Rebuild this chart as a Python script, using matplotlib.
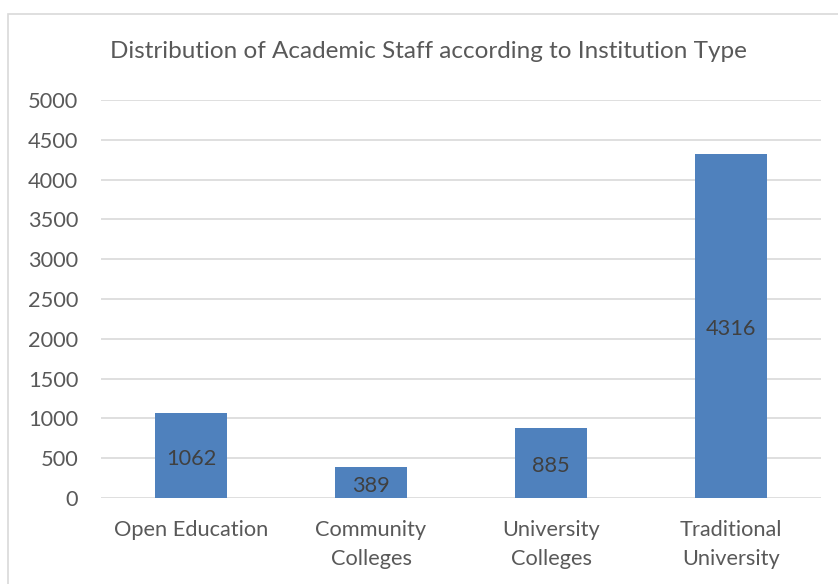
import matplotlib.pyplot as plt
from matplotlib.patches import Rectangle

# chart values
categories = ["Open Education", "Community\nColleges", "University\nColleges", "Traditional\nUniversity"]
staff = [1062, 389, 885, 4316]
yticks = [0, 500, 1000, 1500, 2000, 2500, 3000, 3500, 4000, 4500, 5000]

plt.rcParams['font.family'] = ['Lato', 'DejaVu Sans']

fig = plt.figure(figsize=(8.38, 5.84), dpi=100)
ax = fig.add_axes([101 / 838, 86 / 584, 720 / 838, 398 / 584])

# light grey chart border (cut off at right/bottom like the reference)
fig.patches.append(Rectangle((8 / 838, -0.05), 1.0, (584 - 14) / 584 + 0.05,
                             transform=fig.transFigure, fill=False,
                             edgecolor="#d9d9d9", linewidth=1.2))

x = range(len(categories))
bars = ax.bar(x, staff, width=0.4, color="#4f81bd", zorder=3)

for b, v in zip(bars, staff):
    ax.text(b.get_x() + b.get_width() / 2, v / 2 - 40, str(v), ha="center", va="center",
            fontsize=15.7, color="#404040", zorder=4)

ax.set_xlim(-0.5, len(categories) - 0.5)
ax.set_ylim(0, 5000)
ax.set_yticks(yticks)
ax.set_yticklabels([str(t) for t in yticks])
ax.set_xticks(list(x))
ax.set_xticklabels(categories, linespacing=1.55)
ax.tick_params(axis="both", length=0, labelsize=15.7, labelcolor="#595959")
ax.tick_params(axis="y", pad=16.5)
ax.tick_params(axis="x", pad=16)
ax.grid(axis="y", color="#d9d9d9", linewidth=1.2, zorder=0)
for s in ax.spines.values():
    s.set_visible(False)

fig.text(428 / 838, 1 - 51 / 584, "Distribution of Academic Staff according to Institution Type",
         ha="center", va="center", fontsize=17.5, color="#595959")

fig.savefig("out.png", dpi=100)
